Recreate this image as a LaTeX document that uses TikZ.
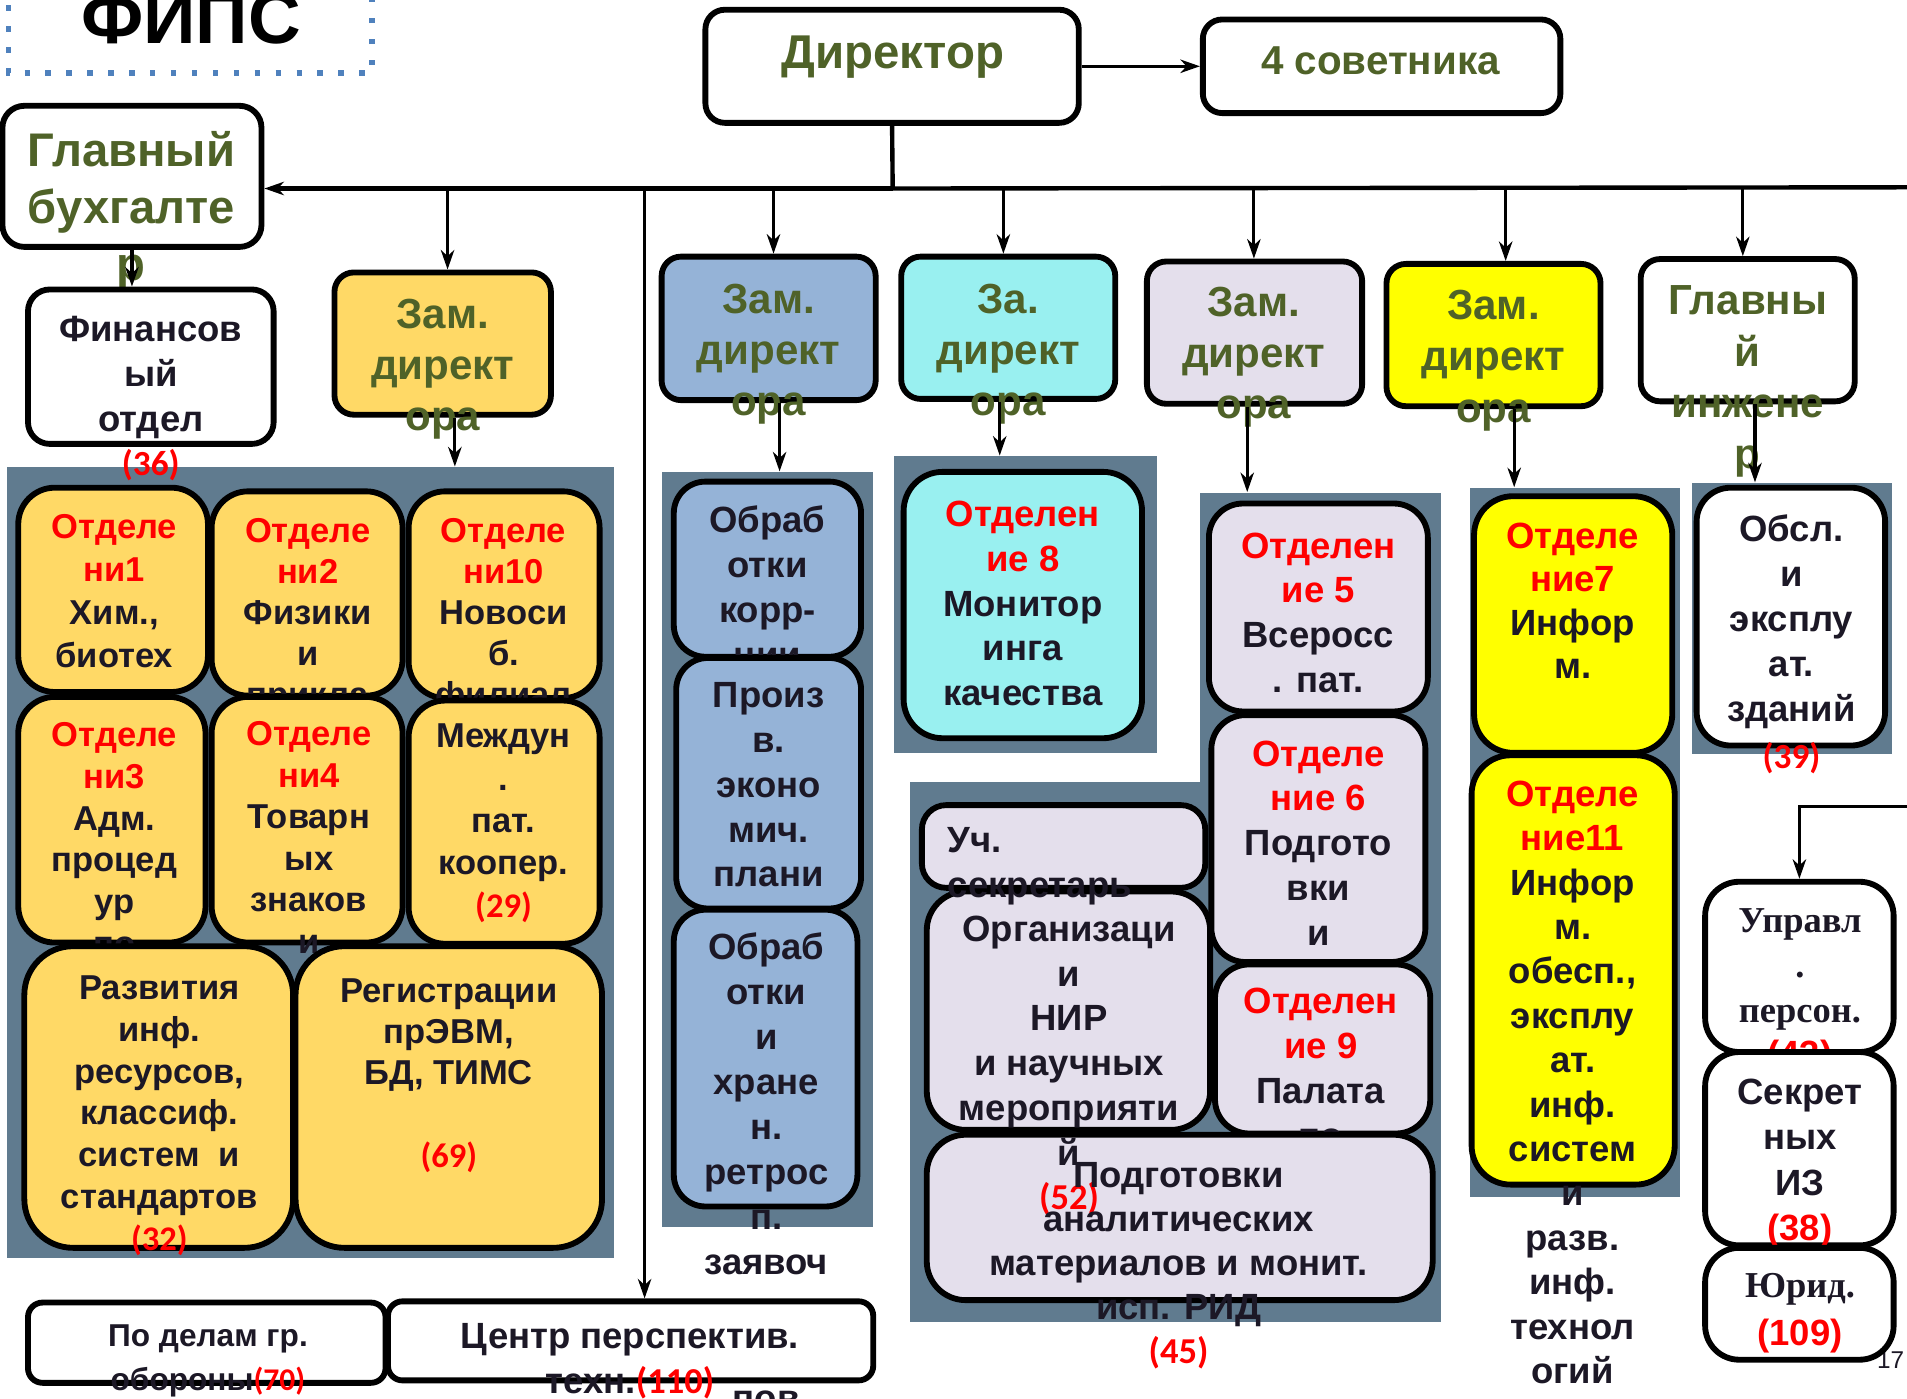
\documentclass[tikz,border=0pt]{standalone}
\usepackage{fontspec}
\setmainfont{Liberation Sans}
\newfontfamily\calib{Carlito}
\newfontfamily\serf{Liberation Serif}
\usetikzlibrary{arrows.meta,fit}
\definecolor{olive}{RGB}{79,98,40}
\definecolor{ink}{RGB}{28,24,38}
\definecolor{slate}{RGB}{96,123,143}
\definecolor{gold}{RGB}{255,217,102}
\definecolor{bluebox}{RGB}{149,179,215}
\definecolor{cyanbox}{RGB}{153,240,240}
\definecolor{lav}{RGB}{228,223,236}
\definecolor{dotblue}{RGB}{79,129,189}
\definecolor{rd}{RGB}{255,0,0}
\definecolor{yel}{RGB}{255,255,0}
\newcommand\fs[1]{\fontsize{#1}{#1}\selectfont}
\newcommand\RT[1]{\textcolor{rd}{#1}}
\newcommand\RC[1]{\textcolor{rd}{\calib #1}}
\newcommand\mlines[6][]{\foreach \lin [count=\i from 0] in {#6} {\node[txt,#1] (#2\i) at (#3,{#4+\i*#5}) {\lin};}}
\tikzset{
  txt/.style={inner sep=0pt, anchor=base, text=ink, font=\bfseries\fs{#1}},
  txt/.default=15,
  bx/.style={draw=black, line width=2.4pt, rounded corners=#1, inner sep=0pt},
  bx/.default=8pt,
  pnl/.style={fill=slate, draw=none, inner sep=0pt},
  con/.style={draw=black, line width=1.3pt},
  arr/.style={con, -{Stealth[length=8pt,width=5.5pt,inset=2.5pt]}},
  bus/.style={draw=black, line width=1.8pt},
}
\begin{document}
\begin{tikzpicture}[x=0.5pt,y=-0.5pt]
\useasboundingbox (0,0) rectangle (1568,1150);
\clip (0,0) rectangle (1568,1150);
% title
\draw[dotblue, line width=2.2pt, dash pattern=on 2.2pt off 6.4pt] (7,-30) -- (7,60) -- (306,60) -- (306,-30);
\node[txt=30,text=black] (title) at (157,36) {ФИПС};
% panels
\node[pnl, fit={(6,384)(505,1034)}] (p1) {};
\node[pnl, fit={(544,388)(718,1009)}] (pb) {};
\node[pnl, fit={(735,375)(951,619)}] (pc) {};
\node[pnl, fit={(987,405)(1185,1087)}] (pl) {};
\node[pnl, fit={(748,643)(990,1087)}] (pl2) {};
\node[pnl, fit={(1209,401)(1381,984)}] (py) {};
\node[pnl, fit={(1391,397)(1556,620)}] (pg) {};
% top level
\node[bx, fill=white, fit={(580,8)(887,101)}] (dir) {};
\node[txt=19.5,text=olive] (dirt) at (734,56) {Директор};
\node[bx, fill=white, fit={(989,16)(1283,93)}] (adv) {};
\node[txt=16.6,text=olive] (advt) at (1135,61) {4 советника};
\node[bx=9pt, fill=white, fit={(2,87)(215,203)}] (gb) {};
\mlines[txt=19.4,text=olive]{gbt}{108}{137}{47}{Главный, бухгалте, р}
\node[bx=9pt, fill=white, fit={(23,238)(225,365)}] (fin) {};
\mlines{fint}{124}{281}{37}{Финансов, ый, отдел}
\node[txt=14.5] (fin36) at (124,391) {\RC{(36)}};
\node[bx, fill=gold, fit={(275,224)(453,341)}] (zy) {};
\mlines[txt=17.3,text=olive]{zyt}{364}{270}{42}{Зам., директ, ора}
\node[bx, fill=bluebox, fit={(544,211)(720,329)}] (zb) {};
\mlines[txt=17.3,text=olive]{zbt}{632}{258}{42}{Зам., директ, ора}
\node[bx, fill=cyanbox, fit={(741,211)(917,328)}] (zc) {};
\mlines[txt=17.3,text=olive]{zct}{829}{258}{42}{За., директ, ора}
\node[bx, fill=lav, fit={(943,215)(1120,332)}] (zl) {};
\mlines[txt=17.3,text=olive]{zlt}{1031}{260}{42}{Зам., директ, ора}
\node[bx, fill=yel, fit={(1140,217)(1316,334)}] (zy2) {};
\mlines[txt=17.3,text=olive]{zy2t}{1228}{263}{42}{Зам., директ, ора}
\node[bx, fill=white, fit={(1349,213)(1525,330)}] (gi) {};
\mlines[txt=17.3,text=olive]{git}{1437}{259}{42}{Главны, й, инжене, р}
% panel 1
\node[bx=15pt, fill=gold, fit={(15,401)(171,569)}] (o1) {};
\mlines[txt=14.2]{o1t}{94}{443}{35.3}{\RT{Отделе}, \RT{ни1}, {Хим.,}, биотех}
\node[bx=15pt, fill=gold, fit={(174,404)(331,572)}] (o2) {};
\mlines[txt=14.2]{o2t}{253}{446}{33.7}{\RT{Отделе}, \RT{ни2}, Физики, и, прикла}
\node[bx=15pt, fill=gold, fit={(336,404)(493,574)}] (o10) {};
\mlines[txt=14.2]{o10t}{414}{446}{33.7}{\RT{Отделе}, \RT{ни10}, Новоси, б., филиал}
\node[bx=15pt, fill=gold, fit={(15,573)(169,775)}] (o3) {};
\mlines[txt=14.2]{o3t}{94}{614}{34.3}{\RT{Отделе}, \RT{ни3}, Адм., процед, ур, по}
\node[bx=15pt, fill=gold, fit={(174,573)(331,775)}] (o4) {};
\mlines[txt=14.2]{o4t}{254}{613}{34.2}{\RT{Отделе}, \RT{ни4}, Товарн, ых, знаков, и}
\node[bx=15pt, fill=gold, fit={(336,576)(493,776)}] (om) {};
\mlines[txt=14.2]{omt}{414}{615}{34.8}{Междун, ., пат., коопер., \RC{(29)}}
\node[bx=20pt, fill=gold, fit={(20,778)(241,1026)}] (orz) {};
\mlines[txt=14.2]{orzt}{131}{822}{34.3}{Развития, инф., {ресурсов,}, классиф., систем\ \ и, стандартов, \RC{(32)}}
\node[bx=20pt, fill=gold, fit={(243,778)(495,1026)}] (oreg) {};
\mlines[txt=14.2]{oregt}{369}{824}{34}{Регистрации, {прЭВМ,}, {БД, ТИМС}}
\node[txt=14.2] (oreg69) at (369,960) {\RC{(69)}};
% bottom left boxes
\node[bx=6pt, fill=white, fit={(23,1071)(317,1137)}] (def) {};
\mlines[txt=13]{deft}{171}{1107}{36}{По делам гр., обороны\RC{(70)}}
\node[bx=6pt, fill=white, fit={(319,1070)(718,1135)}] (cen) {};
\mlines[txt=15]{cent}{518}{1109}{37}{Центр перспектив., техн.\RC{(110)}}
% blue column
\node[bx=13pt, fill=bluebox, fit={(554,396)(708,540)}] (b1) {};
\mlines{b1t}{631}{438}{37}{Обраб, отки, корр-, ции}
\node[bx=13pt, fill=bluebox, fit={(556,541)(708,747)}] (b2) {};
\mlines{b2t}{632}{582}{36.8}{Произ, в., эконо, мич., плани, ров}
\node[bx=13pt, fill=bluebox, fit={(554,748)(705,992)}] (b3) {};
\mlines{b3t}{630}{789}{37}{Обраб, отки, и, хране, н., ретрос, п., заявоч}
\node[txt] (b3x) at (630,1160) {пов};
% cyan column
\node[bx=16pt, fill=cyanbox, fit={(743,388)(939,607)}] (c8) {};
\mlines{c8t}{841}{433}{36.8}{\RT{Отделен}, \RT{ие 8}, Монитор, инга, качества}
% lavender column
\node[bx=14pt, fill=lav, fit={(994,414)(1174,585)}] (l5) {};
\mlines{l5t}{1084}{459}{36.7}{\RT{Отделен}, \RT{ие 5}, Всеросс, . пат.}
\node[bx=14pt, fill=lav, fit={(996,588)(1172,791)}] (l6) {};
\mlines{l6t}{1084}{630}{36.8}{\RT{Отделе}, \RT{ние 6}, Подгото, вки, и}
\node[bx=14pt, fill=lav, fit={(999,793)(1176,932)}] (l9) {};
\mlines{l9t}{1086}{833}{37}{\RT{Отделен}, \RT{ие 9}, Палата, по}
\node[bx=10pt, fill=lav, fit={(758,662)(991,730)}] (us) {};
\node[bx=16pt, fill=lav, fit={(762,733)(995,929)}] (org) {};
\node[bx=16pt, fill=lav, fit={(762,933)(1178,1069)}] (pod) {};
\mlines[anchor=base west]{ust}{779}{701}{37}{Уч., секретарь}
\mlines{orgt}{879}{774}{36.8}{Организаци, и, НИР, и научных, мероприяти, й, \RC{(52)}}
\mlines{podt}{969}{976}{36.2}{Подготовки, аналитических, материалов и монит., исп. РИД, \RC{(45)}}
% yellow column
\node[bx=16pt, fill=yel, fit={(1212,408)(1375,619)}] (y7) {};
\mlines{y7t}{1293}{451}{35.7}{\RT{Отделе}, \RT{ние7}, Инфор, м.}
\node[bx=16pt, fill=yel, fit={(1210,621)(1377,974)}] (y11) {};
\mlines{y11t}{1293}{663}{36.5}{\RT{Отделе}, \RT{ние11}, Инфор, м., {обесп.,}, эксплу, ат., инф., систем, и, разв., инф., технол, огий}
% chief engineer column
\node[bx=14pt, fill=white, fit={(1395,401)(1550,613)}] (gi1) {};
\mlines{gi1t}{1473}{445}{37}{Обсл., и, эксплу, ат., зданий}
\node[txt=14.5] (gi39) at (1473,632) {\RC{(39)}};
% right column
\node[bx=14pt, fill=white, fit={(1402,725)(1557,865)}] (upr) {};
\mlines[font=\serf\bfseries\fs{15}]{uprt}{1480}{767}{37}{Управл, ., персон.}
\node[txt] (upr43) at (1480,877) {\RT{(43)}};
\node[bx=14pt, fill=white, fit={(1402,865)(1557,1024)}] (sek) {};
\mlines{sekt}{1480}{908}{37.3}{Секрет, ных, ИЗ, \RT{(38)}}
\node[inner sep=0pt, anchor=base west, font=\fs{10}, text=ink] (pg17) at (1543,1125) {17};
\node[bx=14pt, fill=white, fit={(1402,1026)(1557,1118)}] (yur) {};
\node[txt, font=\serf\bfseries\fs{15}] (yurt) at (1480,1067) {Юрид.};
\node[txt] (yur109) at (1480,1106) {\RT{(109)}};
% connectors
\coordinate (bj) at (734,155);
\coordinate (bR) at (1572,154);
\coordinate (a1) at (368,155);
\coordinate (a2) at (530,155);
\coordinate (a3) at (636,155);
\coordinate (a4) at (825,155);
\coordinate (a5) at (1031,155);
\coordinate (a6) at (1238,155);
\coordinate (a7) at (1433,155);
\coordinate (rr) at (1572,663);
\draw[bus] (dir.south) -- (bj);
\draw[bus] (bj) -- (bR);
\draw[bus, -{Stealth[length=8pt,width=5.5pt,inset=2.5pt]}] (bj) -- (gb.east |- bj);
\draw[arr] (dir.east) -- (adv.west);
\draw[arr] (gb.south) -- (gb.south |- fin.north);
\draw[arr] (a1) -- (a1 |- zy.north);
\draw[arr] (a2) -- (a2 |- cen.north);
\draw[arr] (a3) -- (a3 |- zb.north);
\draw[arr] (a4) -- (a4 |- zc.north);
\draw[arr] (a5) -- (a5 |- zl.north);
\draw[arr] (a6) -- (a6 |- zy2.north);
\draw[arr] (a7) -- (a7 |- gi.north);
\draw[arr] ([xshift=5pt]zy.south) -- ([xshift=5pt]zy.south |- p1.north);
\draw[arr] ([xshift=4.5pt]zb.south) -- ([xshift=4.5pt]zb.south |- pb.north);
\draw[arr] ([xshift=-3.5pt]zc.south) -- ([xshift=-3.5pt]zc.south |- pc.north);
\draw[arr] ([xshift=-3pt]zl.south) -- ([xshift=-3pt]zl.south |- pl.north);
\draw[arr] ([xshift=8.5pt]zy2.south) -- ([xshift=8.5pt]zy2.south |- py.north);
\draw[arr] ([xshift=3pt]gi.south) -- ([xshift=3pt]gi.south |- pg.north);
\draw[arr] (rr) -| (upr.north);
\end{tikzpicture}
\end{document}
